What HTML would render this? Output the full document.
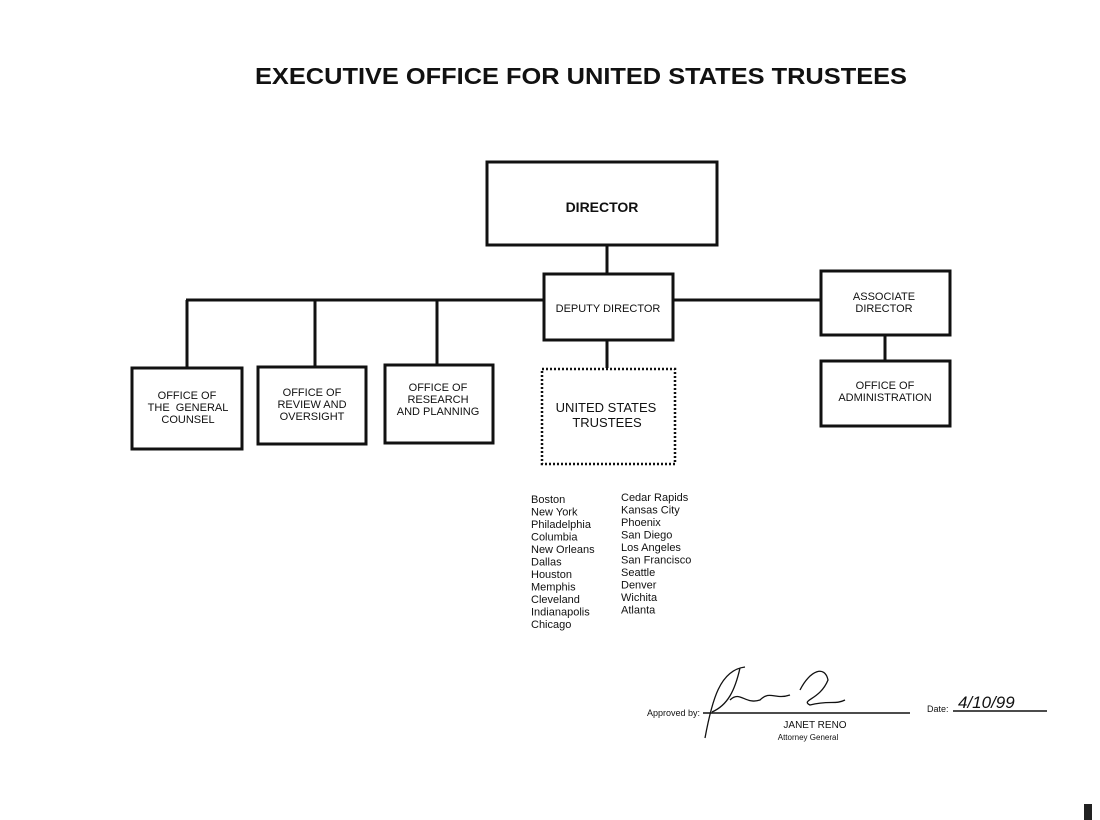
<!DOCTYPE html>
<html><head><style>html,body{margin:0;padding:0;background:#fff;}svg{display:block}text{font-family:"Liberation Sans",sans-serif;fill:#111}</style></head>
<body>
<svg width="1100" height="820" viewBox="0 0 1100 820" xmlns="http://www.w3.org/2000/svg">
<text x="581" y="84" text-anchor="middle" font-size="23" font-weight="bold" textLength="652" lengthAdjust="spacingAndGlyphs">EXECUTIVE OFFICE FOR UNITED STATES TRUSTEES</text>
<g fill="none" stroke="#111" stroke-width="3">
<rect x="487" y="162" width="230" height="83"/>
<line x1="607" y1="245" x2="607" y2="273"/>
<rect x="544" y="274" width="129" height="66"/>
<line x1="186" y1="300" x2="544" y2="300"/>
<line x1="673" y1="300" x2="820" y2="300"/>
<rect x="821" y="271" width="129" height="64"/>
<line x1="885" y1="335" x2="885" y2="360"/>
<rect x="821" y="361" width="129" height="65"/>
<line x1="187" y1="300" x2="187" y2="368"/>
<line x1="315" y1="300" x2="315" y2="367"/>
<line x1="437" y1="300" x2="437" y2="365"/>
<rect x="132" y="368" width="110" height="81"/>
<rect x="258" y="367" width="108" height="77"/>
<rect x="385" y="365" width="108" height="78"/>
<line x1="607" y1="340" x2="607" y2="368"/>
<rect x="542" y="369" width="133" height="95" stroke-width="2.5" stroke-dasharray="2,2"/>
</g>
<text x="602" y="212" text-anchor="middle" font-size="14" font-weight="bold">DIRECTOR</text>
<text x="608" y="312" text-anchor="middle" font-size="11">DEPUTY DIRECTOR</text>
<g font-size="11" text-anchor="middle">
<text x="884" y="300">ASSOCIATE</text><text x="884" y="312">DIRECTOR</text>
<text x="885" y="389">OFFICE OF</text><text x="885" y="401">ADMINISTRATION</text>
<text x="187" y="399">OFFICE OF</text><text x="188" y="411">THE&#160; GENERAL</text><text x="188" y="423">COUNSEL</text>
<text x="312" y="396">OFFICE OF</text><text x="312" y="408">REVIEW AND</text><text x="312" y="420">OVERSIGHT</text>
<text x="438" y="391">OFFICE OF</text><text x="438" y="403">RESEARCH</text><text x="438" y="415">AND PLANNING</text>
</g>
<g font-size="13" text-anchor="middle"><text x="606" y="412">UNITED STATES</text><text x="607" y="427">TRUSTEES</text></g>
<g font-size="11">
<text x="531" y="503">Boston</text><text x="531" y="515.5">New York</text><text x="531" y="528">Philadelphia</text><text x="531" y="540.5">Columbia</text><text x="531" y="553">New Orleans</text><text x="531" y="565.5">Dallas</text><text x="531" y="578">Houston</text><text x="531" y="590.5">Memphis</text><text x="531" y="603">Cleveland</text><text x="531" y="615.5">Indianapolis</text><text x="531" y="628">Chicago</text>
<text x="621" y="501">Cedar Rapids</text><text x="621" y="513.5">Kansas City</text><text x="621" y="526">Phoenix</text><text x="621" y="538.5">San Diego</text><text x="621" y="551">Los Angeles</text><text x="621" y="563.5">San Francisco</text><text x="621" y="576">Seattle</text><text x="621" y="588.5">Denver</text><text x="621" y="601">Wichita</text><text x="621" y="613.5">Atlanta</text>
</g>
<text x="647" y="716" font-size="9">Approved by:</text>
<line x1="703" y1="713" x2="910" y2="713" stroke="#111" stroke-width="1.5"/>
<path d="M745 667 C720 670 712 700 705 738 M740 668 C735 690 728 705 712 712 M730 700 C740 690 745 705 760 700 C770 690 775 700 790 695 M800 690 C810 670 825 665 828 680 C820 700 800 700 810 705 C830 700 835 705 845 700" fill="none" stroke="#111" stroke-width="1.3"/>
<text x="815" y="728" text-anchor="middle" font-size="10">JANET RENO</text>
<text x="808" y="740" text-anchor="middle" font-size="8">Attorney General</text>
<text x="927" y="712" font-size="9">Date:</text>
<line x1="953" y1="711" x2="1047" y2="711" stroke="#111" stroke-width="1.5"/>
<text x="958" y="708" font-size="17" font-style="italic" font-family="Liberation Serif">4/10/99</text>
<rect x="1084" y="804" width="8" height="16" fill="#222"/>
</svg>
</body></html>
